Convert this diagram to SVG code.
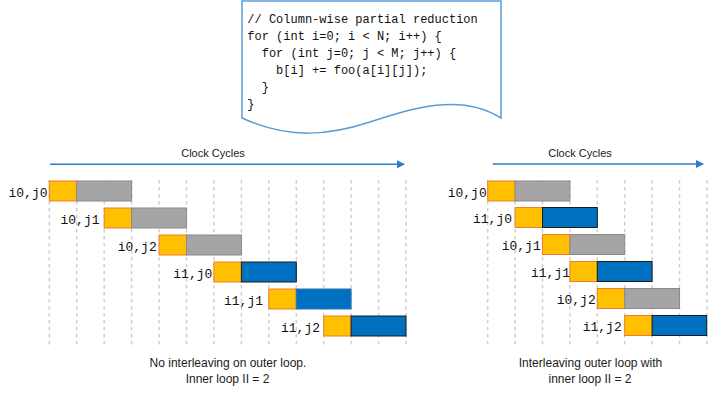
<svg xmlns="http://www.w3.org/2000/svg" width="709" height="394" viewBox="0 0 709 394">
<defs>
<marker id="ah" markerWidth="8" markerHeight="8" refX="7" refY="4" orient="auto" markerUnits="userSpaceOnUse"><path d="M0,0 L8,4 L0,8 Z" fill="#2E7BCF"/></marker>
<style>
.grid{stroke:#cfcfcf;stroke-width:1.5;stroke-dasharray:3.5 3.5;fill:none}
.y{fill:#FFC000;stroke:#ED7D31;stroke-width:1}
.g{fill:#A5A5A5;stroke:#8a8a8a;stroke-width:1}
.b{fill:#0070C0;stroke:#1a1a1a;stroke-width:1}
.bb{fill:#0070C0;stroke:#2E75B6;stroke-width:1}
.lbl{font-family:"Liberation Mono","DejaVu Sans Mono",monospace;font-size:13px;fill:#111;text-anchor:end}
.code{font-family:"Liberation Mono","DejaVu Sans Mono",monospace;font-size:12px;fill:#111;white-space:pre}
.cap{font-family:"Liberation Sans",Arial,sans-serif;font-size:12px;fill:#1a1a1a;text-anchor:middle}
.cc{font-family:"Liberation Sans",Arial,sans-serif;font-size:11px;fill:#1a1a1a;text-anchor:middle}
.arr{stroke:#2E7BCF;stroke-width:1.5;fill:none}
</style>
</defs>
<rect width="709" height="394" fill="#fff"/>

<g id="code-box">
<path d="M242,1 L501,1 L501,118 C460,92 410,109 370,122 C330,135 290,140 242,118 Z" fill="#fff" stroke="#5B9BD5" stroke-width="1.5"/>
<text class="code" x="247.3" y="22.5" xml:space="preserve">// Column-wise partial reduction</text>
<text class="code" x="247.3" y="39.5" xml:space="preserve">for (int i=0; i &lt; N; i++) {</text>
<text class="code" x="247.3" y="56.5" xml:space="preserve">  for (int j=0; j &lt; M; j++) {</text>
<text class="code" x="247.3" y="73.7" xml:space="preserve">    b[i] += foo(a[i][j]);</text>
<text class="code" x="247.3" y="90.9" xml:space="preserve">  }</text>
<text class="code" x="247.3" y="108" xml:space="preserve">}</text>
</g>

<g id="grid-left">
<path class="grid" d="M49.3,180V345M76.7,180V345M104.2,180V345M131.6,180V345M159.1,180V345M186.5,180V345M213.9,180V345M241.4,180V345M268.8,180V345M296.3,180V345M323.7,180V345M351.1,180V345M378.6,180V345M406,180V345"/>
</g>
<g id="grid-right">
<path class="grid" d="M487.7,180V345M515.1,180V345M542.5,180V345M569.9,180V345M597.3,180V345M624.7,180V345M652.1,180V345M679.5,180V345M706.9,180V345"/>
</g>

<g id="connectors">
<line class="arr" x1="50" y1="164.3" x2="404" y2="164.3" marker-end="url(#ah)"/>
<line class="arr" x1="492.7" y1="164" x2="703" y2="164" marker-end="url(#ah)"/>
</g>

<g id="clock-left"><text class="cc" x="213" y="157">Clock Cycles</text></g>
<g id="clock-right"><text class="cc" x="580" y="157">Clock Cycles</text></g>

<g id="L-i0j0"><text class="lbl" x="47.5" y="196.5">i0,j0</text><rect class="y" x="49.3" y="181" width="27.4" height="20"/><rect class="g" x="76.7" y="181" width="54.9" height="20"/></g>
<g id="L-i0j1"><text class="lbl" x="99.5" y="223.5">i0,j1</text><rect class="y" x="104.2" y="208" width="27.4" height="20"/><rect class="g" x="131.6" y="208" width="54.9" height="20"/></g>
<g id="L-i0j2"><text class="lbl" x="156.7" y="250.5">i0,j2</text><rect class="y" x="159.1" y="235" width="27.4" height="20"/><rect class="g" x="186.5" y="235" width="54.9" height="20"/></g>
<g id="L-i1j0"><text class="lbl" x="212.3" y="277.5">i1,j0</text><rect class="y" x="213.9" y="262" width="27.5" height="20"/><rect class="b" x="241.4" y="262" width="54.9" height="20"/></g>
<g id="L-i1j1"><text class="lbl" x="263" y="304.5">i1,j1</text><rect class="y" x="268.8" y="289" width="27.5" height="20"/><rect class="bb" x="296.3" y="289" width="54.8" height="20"/></g>
<g id="L-i1j2"><text class="lbl" x="320" y="331.5">i1,j2</text><rect class="y" x="323.7" y="316" width="27.4" height="20"/><rect class="b" x="351.1" y="316" width="54.9" height="20"/></g>

<g id="R-i0j0"><text class="lbl" x="486.7" y="196.5">i0,j0</text><rect class="y" x="487.7" y="181" width="27.4" height="20"/><rect class="g" x="515.1" y="181" width="54.8" height="20"/></g>
<g id="R-i1j0"><text class="lbl" x="512" y="223">i1,j0</text><rect class="y" x="515.1" y="207.5" width="27.4" height="20"/><rect class="b" x="542.5" y="207.5" width="54.8" height="20"/></g>
<g id="R-i0j1"><text class="lbl" x="540.7" y="250">i0,j1</text><rect class="y" x="542.5" y="234.5" width="27.4" height="20"/><rect class="g" x="569.9" y="234.5" width="54.8" height="20"/></g>
<g id="R-i1j1"><text class="lbl" x="570" y="277">i1,j1</text><rect class="y" x="569.9" y="261.5" width="27.4" height="20"/><rect class="b" x="597.3" y="261.5" width="54.8" height="20"/></g>
<g id="R-i0j2"><text class="lbl" x="595.7" y="304">i0,j2</text><rect class="y" x="597.3" y="288.5" width="27.4" height="20"/><rect class="g" x="624.7" y="288.5" width="54.8" height="20"/></g>
<g id="R-i1j2"><text class="lbl" x="621.7" y="331">i1,j2</text><rect class="y" x="624.7" y="315.5" width="27.4" height="20"/><rect class="b" x="652.1" y="315.5" width="54.6" height="20"/></g>

<g id="caption-left">
<text class="cap" x="228" y="367">No interleaving on outer loop.</text>
<text class="cap" x="227.5" y="382.5">Inner loop II = 2</text>
</g>
<g id="caption-right">
<text class="cap" x="590.5" y="367">Interleaving outer loop with</text>
<text class="cap" x="590" y="382.5">inner loop II = 2</text>
</g>
</svg>
